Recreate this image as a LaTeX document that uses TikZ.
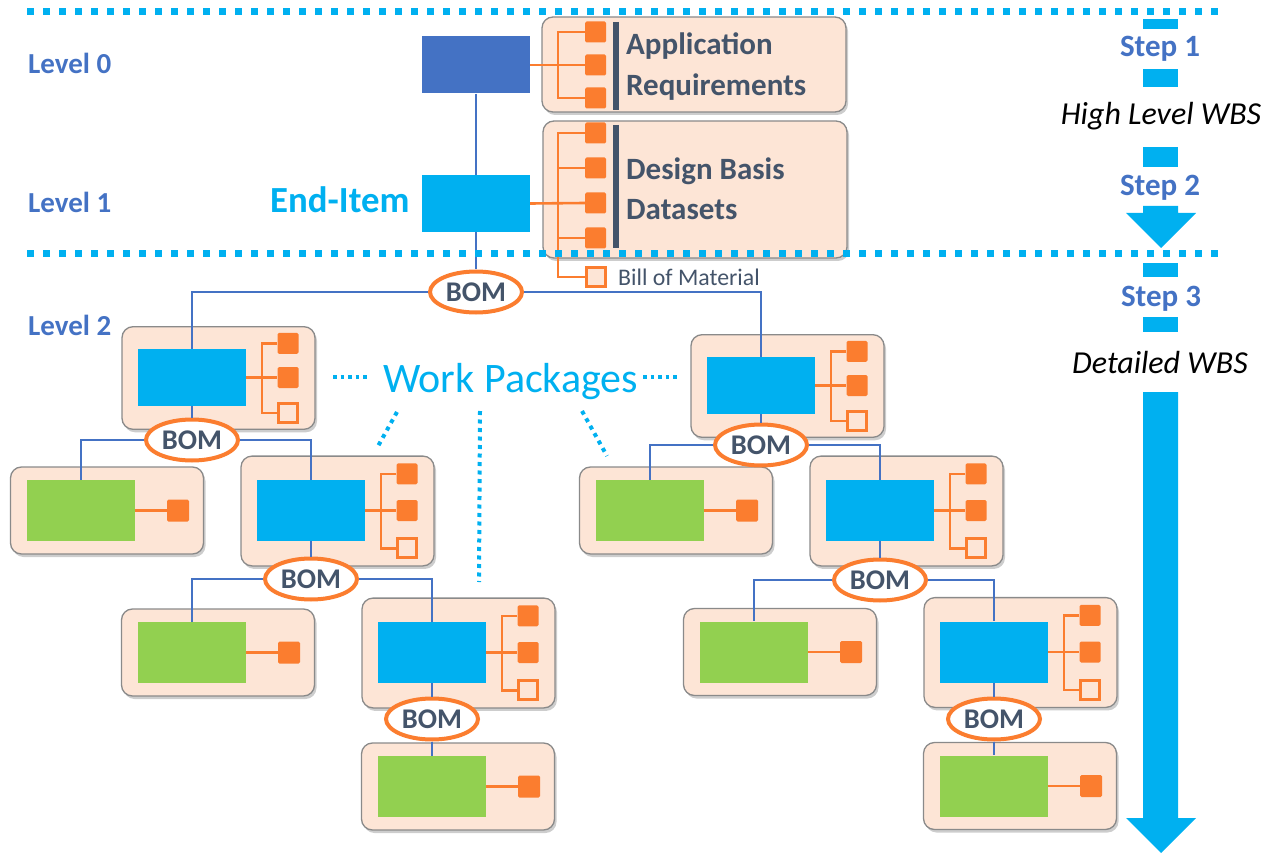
\documentclass[tikz,border=0pt]{standalone}
\usepackage{fontspec}
\setmainfont{Carlito}
\usetikzlibrary{shapes.geometric,shadows}
\definecolor{lvblue}{HTML}{4472C4}
\definecolor{wcyan}{HTML}{00B0F0}
\definecolor{wor}{HTML}{FB7D2F}
\definecolor{peach}{HTML}{FDE5D6}
\definecolor{wgreen}{HTML}{92D050}
\definecolor{dtext}{HTML}{44546A}
\definecolor{bgray}{HTML}{8A8A8A}
\tikzset{
  pkgbox/.style={draw=bgray, line width=1.3pt, fill=peach, rounded corners=11pt,
    minimum width=193pt, inner sep=0pt,
    drop shadow={shadow xshift=2pt, shadow yshift=-3pt, opacity=0.28, fill=black!70}},
  bluebox/.style={fill=wcyan, minimum width=108pt, inner sep=0pt},
  greenbox/.style={fill=wgreen, minimum width=108pt, minimum height=61pt, inner sep=0pt},
  osq/.style={fill=wor, minimum size=21pt, inner sep=0pt, rounded corners=1.5pt},
  hsq/.style={draw=wor, line width=3pt, fill=peach, minimum size=19pt, inner sep=0pt},
  otree/.style={draw=wor, line width=2.6pt},
  conn/.style={draw=lvblue, line width=2.5pt},
  bom/.style={ellipse, draw=wor, line width=4pt, fill=white, minimum width=92pt,
    minimum height=41pt, inner sep=0pt, text=dtext,
    font=\bfseries\fontsize{28.5pt}{28pt}\selectfont},
  wdot/.style={draw=wcyan, line width=4pt, dash pattern=on 4pt off 4.5pt},
  wdotsmall/.style={draw=wcyan, line width=3.5pt, dash pattern=on 3.5pt off 4pt},
  sepline/.style={draw=wcyan, line width=7pt, dash pattern=on 7pt off 9pt},
  lvl/.style={anchor=base west, inner sep=0pt, text=lvblue,
    font=\bfseries\fontsize{29pt}{35pt}\selectfont},
  steplbl/.style={anchor=base, inner sep=0pt, text=lvblue,
    font=\bfseries\fontsize{31pt}{36pt}\selectfont},
  wbslbl/.style={anchor=base, inner sep=0pt, text=black,
    font=\itshape\fontsize{32pt}{36pt}\selectfont},
}
\newcommand\bluepkg[4]{%
  \node[pkgbox, minimum height={1.8*#4}] (#1p) at ({#2+26.5},{#3+0.5}) {};
  \node[bluebox, minimum height={#4}] (#1) at (#2,#3) {};
  \node[osq] (#1a) at ({#2+96},{#3-0.6*#4}) {};
  \node[osq] (#1b) at ({#2+96},#3) {};
  \node[hsq] (#1c) at ({#2+96},{#3+0.62*#4}) {};
  \coordinate (#1t) at ({#2+70},#3);
  \draw[otree] (#1.east) -- (#1b.west);
  \draw[otree] (#1a.west) -| (#1t) |- (#1c.west);
}
\newcommand\greenpkg[3]{%
  \node[pkgbox, minimum height=87pt] (#1p) at ({#2+26},#3) {};
  \node[greenbox] (#1) at (#2,#3) {};
  \node[osq, minimum size=22pt] (#1a) at ({#2+97},#3) {};
  \draw[otree] (#1.east) -- (#1a.west);
}
\begin{document}
\begin{tikzpicture}[x=1pt, y=-1pt]
\useasboundingbox (0,0) rectangle (1264,853);

% ---------- top level boxes ----------
\node[pkgbox, minimum width=304pt, minimum height=95pt] (ar) at (694,64.5) {};
\node[pkgbox, minimum width=304pt, minimum height=137pt] (db) at (695,189.5) {};
\node[fill=lvblue, minimum width=108pt, minimum height=57pt, inner sep=0pt] (l0) at (476,65) {};
\node[bluebox, minimum height=57pt] (l1) at (476,203.5) {};

\node[osq] (ar1) at (595.5,32) {};
\node[osq] (ar2) at (595.5,65) {};
\node[osq] (ar3) at (595.5,98) {};
\coordinate (art) at (558,65);
\draw[otree] (l0.east) -- (ar2.west);
\draw[otree] (ar1.west) -| (art) |- (ar3.west);
\draw[dtext, line width=5.5pt] (616,22) -- (616,110);
\node[anchor=west, align=left, inner sep=0pt, text=dtext,
  font=\bfseries\fontsize{31pt}{41pt}\selectfont] (artxt) at (626,67) {Application\\Requirements};

\node[osq] (db1) at (595.5,133) {};
\node[osq] (db2) at (595.5,168) {};
\node[osq] (db3) at (595.5,203) {};
\node[osq] (db4) at (595.5,238) {};
\node[hsq] (bill) at (595.5,277) {};
\coordinate (dbt) at (558,203);
\draw[otree] (l1.east) -- (db3.west);
\draw[otree] (db1.west) -| (dbt) |- (bill.west);
\draw[otree] (db2.west) -- (db2.west -| dbt);
\draw[otree] (db4.west) -- (db4.west -| dbt);
\draw[dtext, line width=5.5pt] (616,125) -- (616,248);
\node[anchor=west, align=left, inner sep=0pt, text=dtext,
  font=\bfseries\fontsize{31pt}{40pt}\selectfont] (dbtxt) at (626,189) {Design Basis\\Datasets};
\node[anchor=base west, inner sep=0pt, text=dtext,
  font=\fontsize{23.8pt}{26pt}\selectfont] (billtxt) at (618,286) {Bill of Material};

% ---------- labels ----------
\node[lvl] (lv0) at (28,74) {Level 0};
\node[lvl] (lv1) at (28,213) {Level 1};
\node[lvl] (lv2) at (28,335) {Level 2};
\node[anchor=base west, inner sep=0pt, text=wcyan,
  font=\bfseries\fontsize{36.8pt}{40pt}\selectfont] (endit) at (270,213) {End-Item};

% ---------- work packages ----------
\bluepkg{A}{192}{377.5}{57}
\bluepkg{R}{761}{385.5}{57}
\greenpkg{Ga}{81}{510.5}
\bluepkg{B}{311}{510.5}{61}
\greenpkg{Gd}{650}{510.5}
\bluepkg{D}{880}{510.5}{61}
\greenpkg{Gb}{192}{652.5}
\bluepkg{C}{432}{652.5}{61}
\greenpkg{Ge}{754}{652}
\bluepkg{F}{994}{652}{61}
\greenpkg{Gc}{432}{786.5}
\greenpkg{Gf}{994}{786}

% ---------- BOM ellipses ----------
\node[bom] (bom0) at (476,292) {BOM};
\node[bom] (bomA) at (192,440) {BOM};
\node[bom] (bomR) at (761,445) {BOM};
\node[bom] (bomB) at (311,579) {BOM};
\node[bom] (bomD) at (880,580) {BOM};
\node[bom] (bomC) at (432,719) {BOM};
\node[bom] (bomF) at (994,719) {BOM};

% ---------- connectors ----------
\draw[conn] (l0.south) -- (l1.north);
\draw[conn] (l1.south) -- (bom0.north);
\draw[conn] (bom0.west) -| (A.north);
\draw[conn] (bom0.east) -| (R.north);
\draw[conn] (A.south) -- (bomA.north);
\draw[conn] (bomA.west) -| (Ga.north);
\draw[conn] (bomA.east) -| (B.north);
\draw[conn] (B.south) -- (bomB.north);
\draw[conn] (bomB.west) -| (Gb.north);
\draw[conn] (bomB.east) -| (C.north);
\draw[conn] (C.south) -- (bomC.north);
\draw[conn] (bomC.south) -- (Gc.north);
\draw[conn] (R.south) -- (bomR.north);
\draw[conn] (bomR.west) -| (Gd.north);
\draw[conn] (bomR.east) -| (D.north);
\draw[conn] (D.south) -- (bomD.north);
\draw[conn] (bomD.west) -| (Ge.north);
\draw[conn] (bomD.east) -| (F.north);
\draw[conn] (F.south) -- (bomF.north);
\draw[conn] (bomF.south) -- (Gf.north);

% ---------- Work Packages label ----------
\node[anchor=base west, inner sep=0pt, text=wcyan,
  font=\fontsize{42pt}{46pt}\selectfont] (wp) at (383,392) {Work Packages};
\coordinate (wl1) at (333,377); \coordinate (wl2) at (370,377);
\coordinate (wr1) at (643,377); \coordinate (wr2) at (680,377);
\draw[wdotsmall] (wl1) -- (wl2);
\draw[wdotsmall] (wr1) -- (wr2);
\coordinate (wd1s) at (397,412); \coordinate (wd1e) at (377,448);
\coordinate (wd2s) at (480,411); \coordinate (wd2e) at (479,582);
\coordinate (wd3s) at (582,411); \coordinate (wd3e) at (607,456);
\draw[wdot] (wd1s) -- (wd1e);
\draw[wdot] (wd2s) -- (wd2e);
\draw[wdot] (wd3s) -- (wd3e);

% ---------- separators ----------
\draw[sepline] (27,12) -- (1222,12);
\draw[sepline] (27,254) -- (1222,254);

% ---------- right column ----------
\fill[wcyan] (1143,19) rectangle (1178,29);
\node[steplbl] (st1) at (1160,57) {Step 1};
\fill[wcyan] (1143,69) rectangle (1178,87);
\node[wbslbl] (hl) at (1161,125) {High Level WBS};
\fill[wcyan] (1143,147) rectangle (1178,167);
\node[steplbl] (st2) at (1160,196) {Step 2};
\fill[wcyan] (1143,206) -- (1178,206) -- (1178,213) -- (1196,213) -- (1161,248)
  -- (1126,213) -- (1143,213) -- cycle;
\fill[wcyan] (1143,263) rectangle (1178,277);
\node[steplbl] (st3) at (1161,306) {Step 3};
\fill[wcyan] (1143,317) rectangle (1178,332);
\node[wbslbl] (dw) at (1160,373) {Detailed WBS};
\fill[wcyan] (1143,392) -- (1178,392) -- (1178,818) -- (1196,818) -- (1161,853)
  -- (1126,818) -- (1143,818) -- cycle;
\end{tikzpicture}
\end{document}
